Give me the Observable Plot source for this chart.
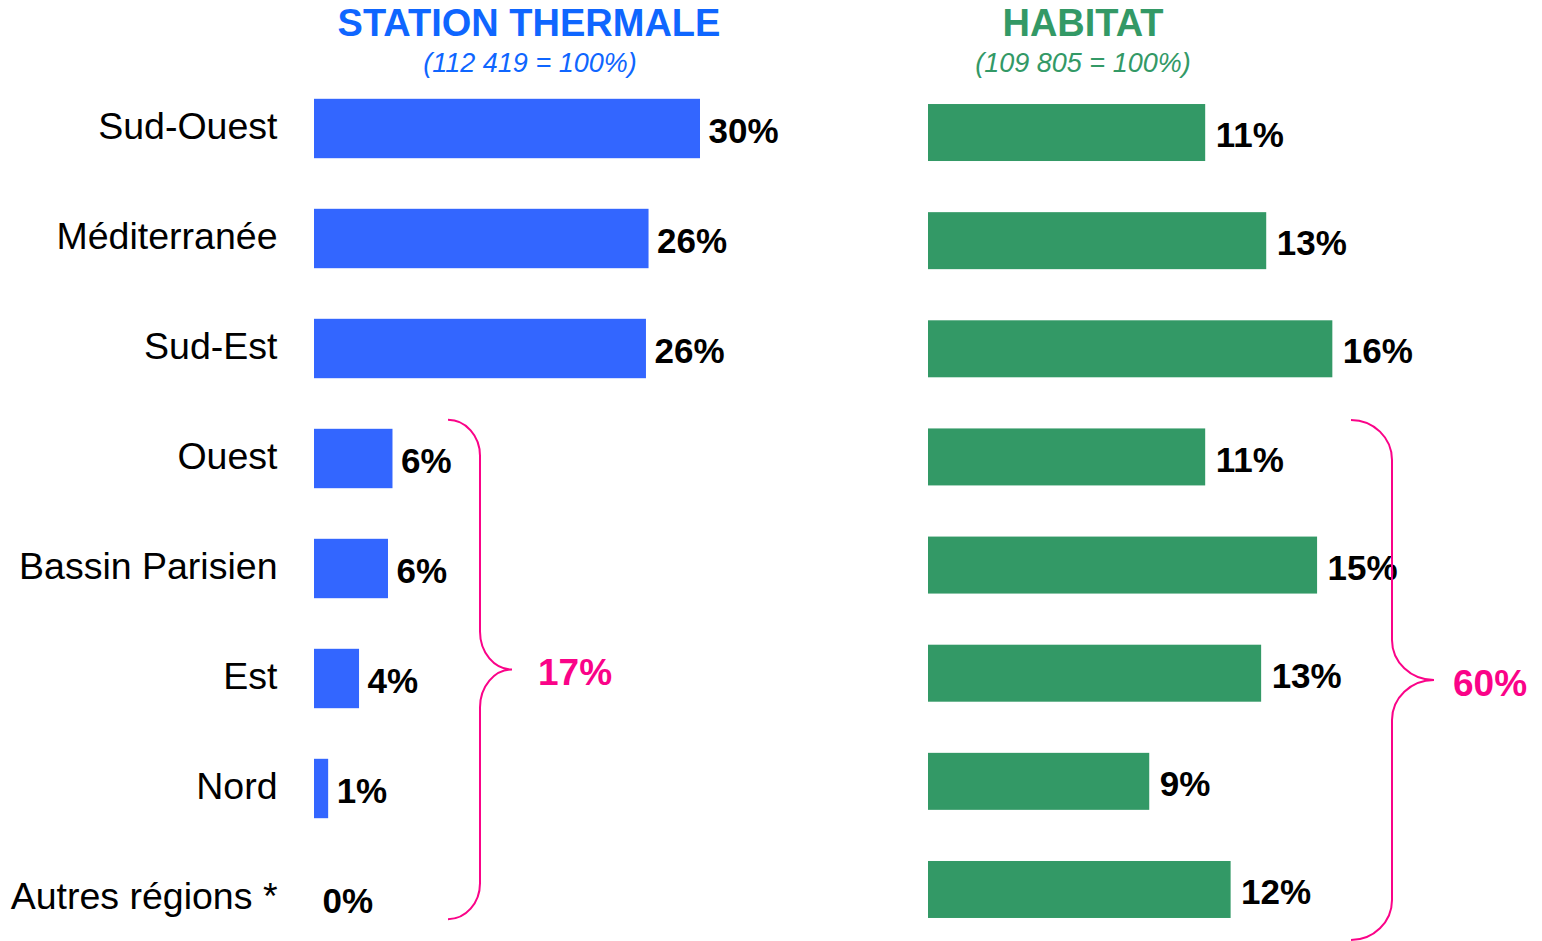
<!DOCTYPE html>
<html><head><meta charset="utf-8">
<script src="https://cdn.jsdelivr.net/npm/d3@7"></script>
<script src="https://cdn.jsdelivr.net/npm/@observablehq/plot@0.6"></script>
<style>
body{margin:0;background:#fff;font-family:"Liberation Sans",Arial,sans-serif;}
#root{position:relative;width:1542px;height:941px;overflow:hidden;background:#fff;}
.title{position:absolute;text-align:center;font-weight:bold;font-size:38px;line-height:1;width:600px;}
.sub{position:absolute;text-align:center;font-style:italic;font-size:27px;line-height:1;width:600px;}
.panel{position:absolute;top:0;}
</style></head><body><div id="root"></div>
<script>
// ---- data ----
const regions = ["Sud-Ouest","Méditerranée","Sud-Est","Ouest","Bassin Parisien","Est","Nord","Autres régions *"];
const thermalValues = [30.0, 26.0, 25.8, 6.1, 5.75, 3.5, 1.1, 0];
const thermalLabels = ["30%","26%","26%","6%","6%","4%","1%","0%"];
const habitatValues = [10.9, 13.3, 15.9, 10.9, 15.3, 13.1, 8.7, 11.9];
const habitatLabels = ["11%","13%","16%","11%","15%","13%","9%","12%"];
const panelTitles = ["STATION THERMALE","HABITAT"];
const panelSubtitles = ["(112 419 = 100%)","(109 805 = 100%)"];
const braceFrom = "Ouest", braceTo = "Autres régions *";
const braceTotals = ["17%","60%"];

// ---- styles ----
const BLUE_BAR = "#3366FF", BLUE_TXT = "#0F66FF";
const GREEN = "#339966";
const MAGENTA = "#FA0388";
const FONT = "'Liberation Sans', Arial, sans-serif";

const root = document.getElementById("root");

function addText(cls, txt, left, top, color) {
  const d = document.createElement("div");
  d.className = cls; d.textContent = txt;
  d.style.left = left + "px"; d.style.top = top + "px"; d.style.color = color;
  root.appendChild(d);
}

function braceMark(total, g) {
  return (index, scales) => {
    const y = scales.y;
    const bw = typeof y.bandwidth === "function" ? y.bandwidth() : y.bandwidth;
    const top = y(braceFrom) + g.topOff;
    const bot = y(braceTo) + bw + g.botOff;
    const mid = (top + bot) / 2;
    const {x0, x1, x2} = g;
    const k = 0.552;
    const rh = x1 - x0, rv = g.rv, rt = x2 - x1, rvt = g.rvt;
    const p = d3.path();
    p.moveTo(x0, top);
    p.bezierCurveTo(x0 + k * rh, top, x1, top + rv - k * rv, x1, top + rv);
    p.lineTo(x1, mid - rvt);
    p.bezierCurveTo(x1, mid - rvt + k * rvt, x2 - k * rt, mid, x2, mid);
    p.bezierCurveTo(x2 - k * rt, mid, x1, mid + rvt - k * rvt, x1, mid + rvt);
    p.lineTo(x1, bot - rv);
    p.bezierCurveTo(x1, bot - rv + k * rv, x0 + k * rh, bot, x0, bot);
    const gg = d3.create("svg:g");
    gg.append("path").attr("d", p.toString()).attr("fill", "none")
      .attr("stroke", MAGENTA).attr("stroke-width", 2);
    gg.append("text").attr("x", x2 + g.labelDx).attr("y", mid + 3)
      .attr("dy", "0.35em").attr("fill", MAGENTA).attr("text-anchor", "start")
      .attr("font-size", 37).attr("font-weight", "bold")
      .attr("font-family", FONT).text(total);
    return gg.node();
  };
}

function panel(values, labels, color, opts) {
  const data = regions.map((r, i) => ({r, v: values[i], lab: labels[i]}));
  const marks = [
    Plot.barX(data, {x: "v", y: "r", fill: color}),
    Plot.text(data, {x: "v", y: "r", text: "lab", dx: opts.valueDx, dy: 3, textAnchor: "start",
      fontSize: 35, fontWeight: "bold", fill: "black"}),
    braceMark(opts.total, opts.brace)
  ];
  if (opts.showLabels) {
    marks.push(Plot.text(data, {x: () => 0, y: "r", text: "r", textAnchor: "end", dx: -37, dy: -2,
      fontSize: 37.5, fill: "black"}));
  }
  return Plot.plot({
    width: opts.width, height: 941,
    marginLeft: 0, marginRight: 0, marginTop: 0, marginBottom: 0,
    style: {background: "transparent", fontFamily: FONT, overflow: "visible"},
    x: {domain: opts.xDomain, range: opts.xRange, axis: null},
    y: {domain: regions, range: opts.yRange, paddingInner: opts.pad, paddingOuter: opts.pad / 2,
        round: false, axis: null},
    marks
  });
}

const left = panel(thermalValues, thermalLabels, BLUE_BAR, {
  width: 880, xDomain: [0, 30], xRange: [314, 700], yRange: [73.5, 953.5], pad: 0.46,
  valueDx: 8, showLabels: true, total: braceTotals[0],
  brace: {x0: 448, x1: 480, x2: 512, rv: 36, rvt: 38, topOff: -9, botOff: -9, labelDx: 26}
});
const right = panel(habitatValues, habitatLabels, GREEN, {
  width: 662, xDomain: [0, 16], xRange: [48, 48 + 16 * 25.43], yRange: [78.45, 943.55], pad: 0.473,
  valueDx: 10, showLabels: false, total: braceTotals[1],
  brace: {x0: 471, x1: 512, x2: 554, rv: 40, rvt: 40, topOff: -8.5, botOff: 22, labelDx: 19}
});
left.classList.add("panel"); left.style.left = "0px";
right.classList.add("panel"); right.style.left = "880px";
root.appendChild(left);
root.appendChild(right);

addText("title", panelTitles[0], 229, 4, BLUE_TXT);
addText("sub", panelSubtitles[0], 230, 50, BLUE_TXT);
addText("title", panelTitles[1], 783, 4, GREEN);
addText("sub", panelSubtitles[1], 783, 50, GREEN);
</script></body></html>
